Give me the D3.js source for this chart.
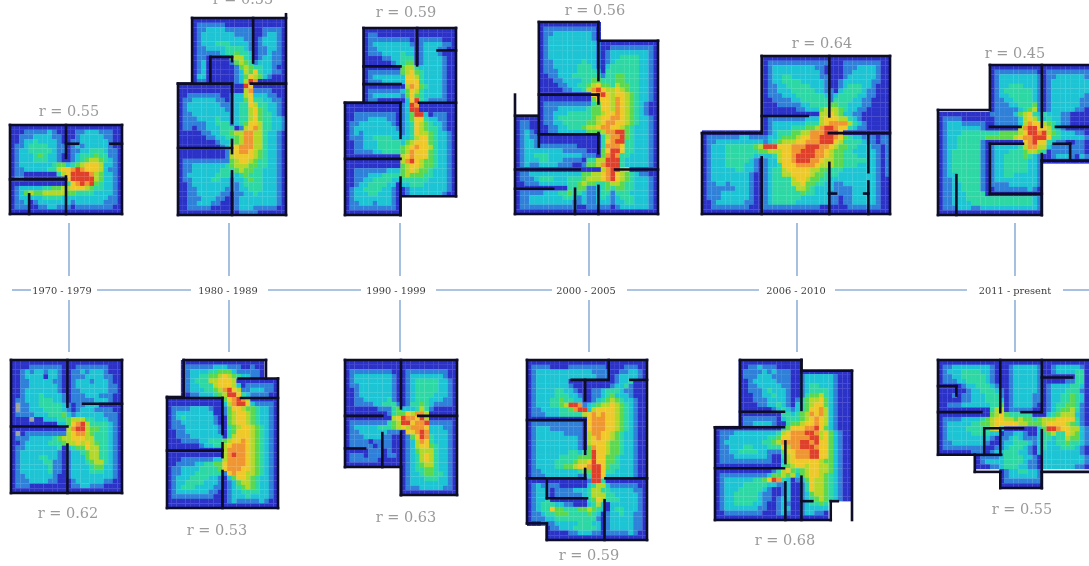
<!DOCTYPE html>
<html>
  <head>
    <title>Floor plan heat maps by decade</title>
    <meta charset="UTF-8" />
    <style>
      body { margin: 0; background: #fff; overflow: hidden; }
    </style>
  </head>
  <body>
    <script src="https://cdn.jsdelivr.net/npm/d3@7"></script>
    <script>
      // heat levels per cell: 0 low .. 8 high, 9 = grey cell, "." = outside the plan
      var plan1970a = [
        "000000000000000000000000","000111112100001122211100","001112222110001222221100","001223222210011222222100",
        "011233332211012122222100","012233333211011223332110","012223432210012333433110","012223332210012345543210",
        "012222222344234566652210","011222223356678766652110","011000000035688887542210","011000000000688888542210",
        "000000000000367878432210","012222233445566654332210","012454455555443333222210","012222233332222222222110",
        "011201222222212222221110","011100112211101111111100","000000000000000000000000"
      ];
      var plan1980a = [
        "...00000000000000000000","...01111110000000000000","...01122221111110011110","...01222222211110012210",
        "...01222222222110122210","...01222333222210122210","...01122223333210112210","...01111123343320112110",
        "...01100000455320122110","...01200000145431222110","...01200000014543322100","...01200000012546322110",
        "...02200000012465421000","...01100000012587000000","00000000000000860000000","00000000000000571111000",
        "00111111100122562221100","01122222110122463322110","01222222211123365332210","01222222221123356432210",
        "01122222222123356433210","01112222322123356433221","01111122333123466533221","01101122233301567533221",
        "00000112233455775532210","00000011223345775532210","00000000122345775532210","00000000012567775532210",
        "00000000001567765432210","00000000001566665432210","01111111111456654332210","01122222223455544332210",
        "01122222233345443322210","01222222333223433322210","01122223322122343322210","00122222222112333322210",
        "00112222221112233322210","00112222211011223222210","00111222110012222222210","00112221100012222222210",
        "00111110000012221111100","00000000000001111000000"
      ];
      var plan1990a = [
        "....00000000000000000000","....01100000000000000000","....01111111110011111000","....01222222221012222110",
        "....01122222222012221100","....01112222322012221000","....00001122333012222100","....00000012344012222100",
        "....00000000455322222100","....01111111456432222100","....01222222266532222100","....01112222266632222100",
        "....00000000057643222100","....01111111246532222100","....01222222146432222100","....01100000026832111100",
        "000000000000128700000000","000000000000128800000000","001111111110124882011100","001112222110124663221100",
        "011222222210123654322100","012222222221123654332100","012122222222123655432210","011122333322223566432210",
        "001122233333245666432210","001122233333456766532210","001111223333457666432210","000000000000567666432210",
        "000000000000578654432210","000000000000456654432210","001111111222456544322210","001112223333454443322210",
        "001122333322333333222210","001223333220223332222210","012233332210012222222210","012223322210012222222100",
        "012222222210............","011222122210............","011111111110............","000000000000............"
      ];
      var plan2000a = [
        ".....0000000000000............",".....0111111111110............",".....0112222222210............",".....0122222222210............",
        ".....0122222222221000000000000",".....0122222222221001111111110",".....0122222222221012222222210",".....0122222222221012233332210",
        ".....0112222223221012333332210",".....0112222233321023333332210",".....0111222233332033333332210",".....0011222333333133443332210",
        ".....0001122223344333443332210",".....0000112233456443544332210",".....0000011223578655654332210",".....0000000000067865665432210",
        ".....0000000000046665765432210",".....0111111111134665765432100",".....0111222222344665765432100",".....0112223333344566765432100",
        "000000112333333345667765432210","011000112233333445677665432210","011000011223334556776654322210","012100011222222444577884322210",
        "012110000000000000357784322210","012210000000000000367883322210","012211111111100000377763322210","012222222211111000468863322210",
        "012233322222221110478733222210","012223322211110335588832222210","012112222111001445788832222210","000000000000000000578856000000",
        "011222222222224455678654321100","011123332223334555678654322210","001112222223345443345543322210","000000000003344112343443322210",
        "011111222334332112331333222210","011222222233212112321233322210","011222222222112112221223322210","011111111111100111110122222210",
        "000000000000000000000000000000"
      ];
      var plan2006a = [
        ".............000000000000000000000000000",".............011111111111110001111111100",".............012222222221100001112222100",".............012222222222100001122222100",
        ".............012233222222110001222222100",".............012233332222210012222221100",".............011223333322210012333221000",".............011222333332211023333211000",
        ".............011122233333321233332211000",".............001111223333331333322110000",".............000111112233334433222110000",".............000000011222455543221100000",
        ".............000000000000556542211000000",".............011111111222566655321000000",".............012222222333567777532100000",".............012222333445788766321100000",
        "0000000000000012333445577788860000000000","0111111122111122344456677888764322111011","0112222222222123455566777888653333211011","0122233333345888666777888776544332221101",
        "0122233333334455566778887765443322222101","0122233333322223566788887765443332222101","0122233333210122566788877655443333322101","0122233332210122366677776555443332222101",
        "0122222332210123356666655443332222222101","0122222222100123355666654433322222222101","0122222222100123333566544332222222222100","0112212222100123333556443322112222222100",
        "0111111222100123333355432222111122222100","0111222222100123333334332221111122222100","0111222222100123333332222221101122222100","0012222221100123333322222221101122222100",
        "0011111111000111111111111000000111111100","0000000000000000000000000000000000000000"
      ];
      var plan2011a = [
        "...........000000000000000000000","...........011111111100111111111","...........012222222210112222221","...........012222222210122222222",
        "...........012233322210122222222","...........012333333210122222222","...........012233333210122222221","...........011223333210122222211",
        "...........011122333410122222211","...........011111234510122222110","00000000000111112456323222110000","01111000000011111256532322110000",
        "01222111110011111257665432110000","01222222210000000578866532100000","01222333333334444568878543222110","01223333334444445677888633222221",
        "01223333310000000067866321100110","01223333310122222357755211111110","01233333310122233345543011111110","01233333310122333343210012221021",
        "01233333310122333332210000000000","0123333331012233333221..........","0123333331012233333221..........","0122333331012233222221..........",
        "0112333331012222222221..........","0112233331011112222221..........","0112233331001111111210..........","0112223333000000000000..........",
        "0112223333333333333321..........","0112222333333333333321..........","0111222112222222222221..........","0000000000000000000000.........."
      ];
      var plan1970b = [
        "000000000000000000000000","000011111110001111111000","001212212210011212221000","001222202210011122221100",
        "001122222110012221222100","001122222210012222222110","001222222210011222222110","001222322221011122211100",
        "011222333221011111222100","091122333332101122200000","091122233332101222111100","011112223334212222221110",
        "000090022233455533222110","000000000022467853333210","000000000000578854433210","090111111111567754333210",
        "011122222345566655333210","001222223334556565433210","011222222230234465533210","012222222210122345533210",
        "012222332210122245533210","012222233110122234553210","012222223110122223442210","012222223110122223332210",
        "011222222100122222222210","011122221100012222221100","011100000000011221110000","000000000000000000000000"
      ];
      var plan1980b = [
        "...000000000000000000...","...011111122211100100...","...012222334442111110...","...012233445654322110...",
        "...012333556665000000000","...012233356665201111110","...012223345786511222110","...001122234588632111100",
        "000000000000467875000000","000000000000257886211110","011112222100146654432210","012222222200145665432210",
        "012322222210045665432210","011222222210045665432210","011122222221034566543210","001122222221034666543210",
        "001112222222035666543210","000111122333456676543210","000000012233567776543210","000000000000577776543210",
        "000000000000578776543210","000111111122577776543210","001111223344677776543210","011222233334677766543210",
        "011222333333167665543210","012223333221024665432210","012233332221012455432210","012333222211012345432210",
        "012222222110012233332210","011111111100012223222210","000000000000012111112100","000000000000000000000000"
      ];
      var plan1990b = [
        "000000000000000000000000","000000000000000000000000","011111111100011111111100","012222222210012222222100",
        "012222222210012333332210","011222222210012333332210","001222222210012333332210","001222222210012333322210",
        "001122222310012333222110","001111223331013343211110","000000011134222353100000","000000000134465775000000",
        "000000000056877685000000","011111111345886778111110","012222233345657776222110","011222222111066787222210",
        "011122221100014687322210","011110111100012576322210","011111011100012566432210","000001110100012455532210",
        "011101110110012356532210","011111100000012356532210","000000000000012345532210","............012334432210",
        "............012234433210","............012223332210","............012222222210","............011122222110",
        "............000000000000"
      ];
      var plan2000b = [
        "00000000000000000000000000","01111000011111111000011100","01222222222222111100112210","01222222222222211101222210",
        "01222222200000000001223000","01222222210000000012231000","01222233221000112333211000","01222233322100112342221000",
        "01222334332200123454322100","01222334588712345565432100","01122223347882566665432100","01112223333356767665432100",
        "00000000000006777665432100","01111111111106777665432100","01222111111106777665432100","01222222111105776654322100",
        "01222222222105676654322100","01222222222105666544322100","01222222222104766544322100","01222222233234866544322100",
        "01222223333444866443222100","01222233334556866443222100","01222233445667886433222100","01122222222344886332222100",
        "01112222222113886222222100","00000000000001883000000000","01211110000002355211111100","01221011112223553322222110",
        "01221011111123555332222210","01223000000003465333222210","01233322110002352022222210","01233644333445432023322210",
        "01123344433334320122322110","01112233333333310122222110","00011122222333220122222110","....0112223333320122222110",
        "....0000011222110111112100","....0000000000000000000000"
      ];
      var plan2006b = [
        ".....0000000000000...........",".....0011211100000...........",".....011112121110000000000000",".....011122211110012222221000",
        ".....001222221110012222221000",".....001122222110012332221000",".....001112322210012333321000",".....000112232210013445321000",
        ".....000111222210134556421000",".....000011223210234566421000",".....000000012321234667521000",".....000000000332345767521000",
        ".....011111110233345676521000",".....011222210034456676521000","00000000000000246667786421000","01112222222223567778875642100",
        "01122222222334667777885642100","01222222223345777788786642100","01122233222333657788876642100","01122333322111466777886642100",
        "01112222222100356777886642100","01111111111100256666665442100","00000000000000345665665542100","00000000000013564345665542100",
        "01111111111244545245665432100","01222222334687320124655432100","01222233333221120013655432100","01222333332100120013655432100",
        "01223333321100120012455432100","01223333321101220012345432100","012233332210012100123343.....","012222222110012200122222.....",
        "001111111100012100122110.....","000000000000000000000000....."
      ];
      var plan2011b = [
        "00000000000000000000000000000000","01122222222100012222210012222210","01222333322100012222210012222330","01122333332100012222210000000330",
        "01112233332100012222210000011330","00000122333210012222210122223320","00000012233321012222210122233310","00010112223331012222110122334320",
        "00000112223332012222110122334320","00111222222334012222100123344310","00000000000355011111000123445310","00000000000456433333000234555210",
        "01111222234566554544345556666310","01222223344566666554445666654310","01222233333562000000024887665521","01222223333220112210023453365421",
        "01222222222101123211123323354421","01122222221001223332123223343321","01111111110011233321023222333210","00000001110122333221022222222210",
        "........011112333322102222222221","........012222333321102222222221","........000112333221102222222110",".............012233221..........",
        ".............012222221..........",".............011111111..........",".............000000000.........."
      ];

      // walls as x1, y1, x2, y2 in cell units of their plan
      var walls1970a = [[0,0,24,0],[24,0,24,19],[24,19,0,19],[0,19,0,0],[12,0,12,7],[12,11,12,19],[0,11.6,12,11.6],[12,4,14.6,4],[21.5,4,24,4],[4.1,14.8,4.1,19]];
      var walls1980a = [[3,0,23,0],[23,-0.8,23,42],[23,42,0,42],[0,42,0,14],[0,14,3,14],[3,14,3,0],[16,0,16,9.5],[6.9,8.3,11.5,8.3],[6.9,8.3,6.9,14],[11.5,8.3,11.5,9.2],[0,14,11.5,14],[15.5,14,23,14],[11.5,14,11.5,22.4],[0,27.7,11.5,27.7],[11.5,26,11.5,28.8],[11.5,32.7,11.5,42]];
      var walls1990a = [[4,0,24,0],[24,0,24,36],[24,36,12,36],[12,36,12,40],[12,40,0,40],[0,40,0,16],[0,16,4,16],[4,16,4,0],[15.6,0,15.6,8],[20,4.8,24,4.8],[4,8.2,12,8.2],[4,12,12,12],[0,16,12,16],[16,16,24,16],[12,16,12,23.5],[0,28,12,28],[12,32,12,40]];
      var walls2000a = [[5,0,17.5,0],[17.5,0,17.5,4],[17.5,4,30,4],[30,4,30,41],[30,41,0,41],[0,41,0,15.5],[5,0,5,26.6],[0,20,5,20],[5,15.5,17.5,15.5],[17.5,4,17.5,12.4],[17.5,15.5,17.5,17.4],[17.5,23.7,17.5,28],[5,24,17.5,24],[0,31.5,13.6,31.5],[21,31.5,30,31.5],[0,35.6,8,35.6],[12.6,35.6,12.6,41],[17.5,35,17.5,41]];
      var walls2006a = [[12.7,0,40,0],[40,0,40,34],[40,34,0,34],[0,34,0,16.6],[0,16.6,12.7,16.6],[12.7,16.6,12.7,0],[27.1,0,27.1,13],[27.1,23,27.1,34],[12.7,12.9,22.5,12.9],[27,16.6,40,16.6],[12.7,21.8,12.7,34],[35.4,16.6,35.4,25],[35.4,27,35.4,34],[27,29.6,28.5,29.6],[34.5,29.6,35.4,29.6]];
      var walls2011a = [[11,0,32,0],[11,0,11,9.6],[0,9.6,11,9.6],[0,9.6,0,32],[0,32,22,32],[22,32,22,20.4],[22,20.4,32,20.4],[22,0,22,13.2],[11,13.2,17.5,13.2],[25,13.2,32,13.2],[11,16.8,18,16.8],[11,16.8,11,27.5],[11,27.5,22,27.5],[28,16.8,28,20.4],[24.5,16.8,28,16.8],[22,19,22,32],[3.9,23.5,3.9,32]];
      var walls1970b = [[0,0,24,0],[24,0,24,28],[24,28,0,28],[0,28,0,0],[12.2,0,12.2,9.8],[12.2,17.8,12.2,28],[15.6,9.2,24,9.2],[0,14,12.2,14]];
      var walls1980b = [[3.6,0,21.4,0],[21.4,0,21.4,4],[15.5,4,24,4],[24,4,24,32],[24,32,0,32],[0,32,0,8],[0,8,3.6,8],[3.6,8,3.6,0],[0,8.2,12,8.2],[16,8.2,24,8.2],[12,8.2,12,16],[0,19.6,12,19.6],[12,18,12,21],[12,24,12,32]];
      var walls1990b = [[0,0,24,0],[24,0,24,29],[24,29,12,29],[12,29,12,23],[12,23,0,23],[0,23,0,0],[12,0,12,10.4],[12,15.4,12,29],[0,12,8,12],[15.7,12,24,12],[8,15.7,8,23],[0,19,4.3,19]];
      var walls2000b = [[0,0,26,0],[26,0,26,38],[26,38,4.3,38],[4.3,38,4.3,34.5],[4.3,34.5,0,34.5],[0,34.5,0,0],[9.7,4.2,17.7,4.2],[22.4,4.2,26,4.2],[17.7,0,17.7,4.2],[12.6,4.2,12.6,8.5],[0,12.7,12.6,12.7],[12.6,12.7,12.6,19.8],[0,25,12.6,25],[12.6,23,12.6,25],[17,25,26,25],[4.3,25.3,4.3,29.2],[4.3,29.2,13,29.2],[16.8,29.6,16.8,38]];
      var walls2006b = [[5.3,0,18.3,0],[18.3,0,18.3,2.3],[18.3,2.3,29,2.3],[29,2.3,29,34],[5.3,0,5.3,14.3],[5.3,14.3,0,14.3],[0,14.3,0,34],[0,34,24.5,34],[24.5,34,24.5,30],[24.5,30,26,30],[18.3,0,18.3,10.6],[18.3,24.8,18.3,34],[5.3,11,14.6,11],[0,14.3,14.6,14.3],[14.9,17.3,14.9,21.9],[0,23,14.6,23],[14.9,26,14.9,34],[18.3,30,20.6,30]];
      var walls2011b = [[0,0,32,0],[0,0,0,20],[0,20,7.8,20],[7.8,20,7.8,23.6],[7.8,23.6,13.2,23.6],[13.2,23.6,13.2,27],[13.2,27,22,27],[22,27,22,23.6],[22,23.6,32,23.6],[13.2,0,13.2,11],[22,0,22,11],[22,14.8,22,27],[0,11,9.2,11],[17.7,11,22,11],[10,14.4,18,14.4],[9.8,14.4,9.8,20],[7.8,20,13.4,20],[13.2,14.4,13.2,20],[0,5.5,3.9,5.5],[3.9,5.5,3.9,7.5],[22,3.7,28.4,3.7]];

      var eras = ["1970 - 1979","1980 - 1989","1990 - 1999","2000 - 2005","2006 - 2010","2011 -  present"];
      var topR = ["r = 0.55","r = 0.55","r = 0.59","r = 0.56","r = 0.64","r = 0.45"];
      var bottomR = ["r = 0.62","r = 0.53","r = 0.63","r = 0.59","r = 0.68","r = 0.55"];
      var topCells = [plan1970a,plan1980a,plan1990a,plan2000a,plan2006a,plan2011a];
      var bottomCells = [plan1970b,plan1980b,plan1990b,plan2000b,plan2006b,plan2011b];
      var topWalls = [walls1970a,walls1980a,walls1990a,walls2000a,walls2006a,walls2011a];
      var bottomWalls = [walls1970b,walls1980b,walls1990b,walls2000b,walls2006b,walls2011b];

      var levels = ["0","1","2","3","4","5","6","7","8","9"];
      var levelColors = ["#2b30c8","#2f80d8","#1fc4d4","#2fd8a4","#5cd850","#b4d82c","#efc92c","#ef9630","#e0402a","#9aa4a0"];

      // layout, kept apart from the values
      var topBoxes = [[10,125,112,89],[178,18,108,197],[345,28,111,187],[515,22,143,192],[702,56,188,158],[938,65,151,150]];
      var bottomBoxes = [[11,360,111,133],[167,360,111,148],[345,360,112,135],[527,360,120,180],[715,360,137,160],[938,360,151,128]];
      var topLabels = [[69,116],[243,4],[406,17],[595,15],[822,48],[1015,58]];
      var bottomLabels = [[68,518],[217,535],[406,522],[589,560],[785,545],[1022,514]];
      var eraLabelX = [62,228,396,586,796,1015];
      var stemX = [69,229,400,589,797,1015];
      var axisGaps = [[12,31],[97,191],[268,361],[436,552],[627,759],[835,967],[1063,1089]];

      var color = d3.scaleOrdinal().domain(levels).range(levelColors);

      var vis = d3.select("body")
                .append("svg")
                .attr("width", 1089)
                .attr("height", 566);

      var defs = vis.append("defs");
      defs.append("filter").attr("id", "soft")
          .append("feGaussianBlur").attr("stdDeviation", 0.55);
      defs.append("filter").attr("id", "softText")
          .append("feGaussianBlur").attr("stdDeviation", 0.3);

      function drawPlan(cells, walls, box) {
        var cols = d3.max(cells, function(r) { return r.length; });
        var x = d3.scaleLinear().domain([0, cols]).range([box[0], box[0] + box[2]]);
        var y = d3.scaleLinear().domain([0, cells.length]).range([box[1], box[1] + box[3]]);
        var g = vis.append("g").attr("filter", "url(#soft)");

        var flat = [];
        cells.forEach(function(row, j) {
          row.split("").forEach(function(v, i) {
            if (v !== ".") flat.push({ i: i, j: j, v: v });
          });
        });

        g.selectAll("rect")
          .data(flat)
          .enter()
          .append("rect")
          .attr("x", function(d) { return x(d.i); })
          .attr("y", function(d) { return y(d.j); })
          .attr("width", x(1) - x(0) + 0.2)
          .attr("height", y(1) - y(0) + 0.2)
          .attr("fill", function(d) { return color(d.v); });

        g.selectAll("line")
          .data(walls)
          .enter()
          .append("line")
          .attr("x1", function(d) { return x(d[0]); })
          .attr("y1", function(d) { return y(d[1]); })
          .attr("x2", function(d) { return x(d[2]); })
          .attr("y2", function(d) { return y(d[3]); })
          .attr("stroke", "#0b0b28")
          .attr("stroke-width", 2.6)
          .attr("stroke-linecap", "square");
      }

      topCells.forEach(function(c, k) { drawPlan(c, topWalls[k], topBoxes[k]); });
      bottomCells.forEach(function(c, k) { drawPlan(c, bottomWalls[k], bottomBoxes[k]); });

      var timeline = vis.append("g").attr("filter", "url(#soft)")
          .attr("stroke", "#8fb0d8").attr("stroke-width", 1.6);

      timeline.selectAll("line.axis")
        .data(axisGaps)
        .enter()
        .append("line")
        .attr("class", "axis")
        .attr("x1", function(d) { return d[0]; })
        .attr("x2", function(d) { return d[1]; })
        .attr("y1", 290)
        .attr("y2", 290);

      timeline.selectAll("line.up")
        .data(stemX)
        .enter()
        .append("line")
        .attr("class", "up")
        .attr("x1", function(d) { return d; })
        .attr("x2", function(d) { return d; })
        .attr("y1", 223)
        .attr("y2", 276);

      timeline.selectAll("line.down")
        .data(stemX)
        .enter()
        .append("line")
        .attr("class", "down")
        .attr("x1", function(d) { return d; })
        .attr("x2", function(d) { return d; })
        .attr("y1", 300)
        .attr("y2", 352);

      var texts = vis.append("g").attr("filter", "url(#softText)")
          .attr("font-family", "'DejaVu Serif', serif")
          .attr("text-anchor", "middle");

      texts.selectAll("text.era")
        .data(eras)
        .enter()
        .append("text")
        .attr("class", "era")
        .attr("x", function(d, i) { return eraLabelX[i]; })
        .attr("y", 294)
        .attr("font-size", 9.8)
        .attr("fill", "#3c3c3c")
        .text(function(d) { return d; });

      texts.selectAll("text.rtop")
        .data(topR)
        .enter()
        .append("text")
        .attr("class", "rtop")
        .attr("x", function(d, i) { return topLabels[i][0]; })
        .attr("y", function(d, i) { return topLabels[i][1]; })
        .attr("font-size", 14.5)
        .attr("fill", "#9a9a9a")
        .text(function(d) { return d; });

      texts.selectAll("text.rbottom")
        .data(bottomR)
        .enter()
        .append("text")
        .attr("class", "rbottom")
        .attr("x", function(d, i) { return bottomLabels[i][0]; })
        .attr("y", function(d, i) { return bottomLabels[i][1]; })
        .attr("font-size", 14.5)
        .attr("fill", "#9a9a9a")
        .text(function(d) { return d; });
    </script>
  </body>
</html>
